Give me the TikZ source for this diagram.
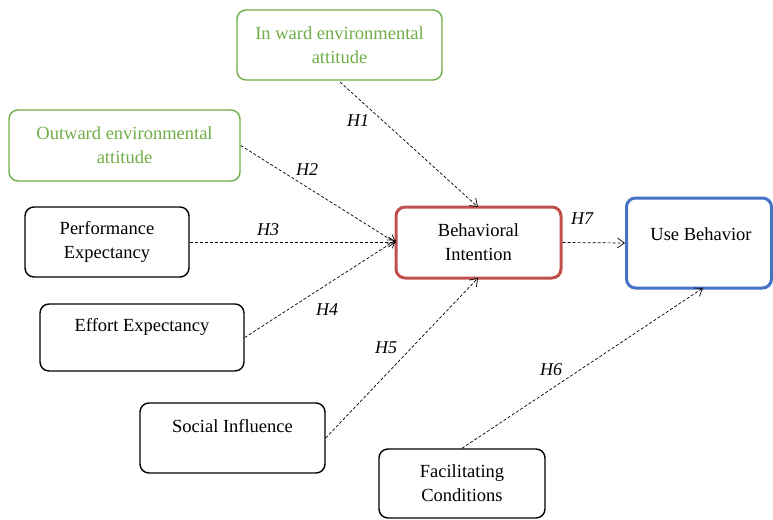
\documentclass[tikz,border=0pt]{standalone}
\usepackage{fontspec}
\setmainfont{Liberation Serif}
\usetikzlibrary{arrows.meta}
\definecolor{grn}{HTML}{70AD47}
\definecolor{red1}{HTML}{C0504D}
\definecolor{blu}{HTML}{4472C4}
\tikzset{
  txt/.style={font=\fontsize{18.5}{24}\selectfont, align=center, inner sep=0pt},
  box/.style={draw=black, line width=1.4pt, rounded corners=9pt, align=center, font=\fontsize{18.5}{24}\selectfont, inner sep=0pt},
  gbox/.style={box, draw=grn, text=grn},
  conn/.style={dashed, dash pattern=on 3pt off 2pt, line width=0.7pt, -{Straight Barb[length=7pt,width=10pt]}},
  hlab/.style={font=\fontsize{18}{20}\selectfont\itshape}
}
\begin{document}
\begin{tikzpicture}[x=1pt,y=-1pt]
\useasboundingbox (0,0) rectangle (773,519);
\node[gbox, minimum width=205pt, minimum height=70pt] (inw) at (339.5,45) {In ward environmental\\attitude};
\node[gbox, minimum width=231pt, minimum height=71pt] (outw) at (124.5,145.5) {Outward environmental\\attitude};
\node[box, minimum width=164pt, minimum height=70pt] (pe) at (107,242) {Performance\\Expectancy};
\node[box, minimum width=204pt, minimum height=67pt] (ee) at (142,337.5) {};
\node[txt] (eet) at (142,327) {Effort Expectancy};
\node[box, minimum width=185pt, minimum height=70pt] (si) at (232.5,438) {};
\node[txt] (sit) at (232.5,426) {Social Influence};
\node[box, minimum width=166pt, minimum height=69pt] (fc) at (462,483.5) {Facilitating\\Conditions};
\node[box, draw=red1, line width=3pt, minimum width=165pt, minimum height=71pt] (bi) at (478.5,242.5) {Behavioral\\Intention};
\node[box, draw=blu, line width=3pt, minimum width=145pt, minimum height=90pt] (ub) at (699,243) {};
\node[txt] (ubt) at (701,234) {Use Behavior};
\coordinate (inwB) at (340,82);
\coordinate (biT) at (478,207);
\coordinate (biL) at (396,242);
\coordinate (biB) at (478,278);
\coordinate (ubB) at (703,288);
\draw[conn] (inwB) -- (biT);
\draw[conn] (outw.east) -- ([yshift=-1pt]biL);
\draw[conn] (pe.east) -- (biL);
\draw[conn] (ee.east) -- ([yshift=2pt]biL);
\draw[conn] (si.east) -- (biB);
\draw[conn] (fc.north) -- (ubB);
\draw[conn] (bi.east) -- (ub.west);
\node[hlab] (h1) at (358,121) {H1};
\node[hlab] (h2) at (307,170) {H2};
\node[hlab] (h3) at (268,230) {H3};
\node[hlab] (h4) at (327,310) {H4};
\node[hlab] (h5) at (386,348) {H5};
\node[hlab] (h6) at (551,370) {H6};
\node[hlab] (h7) at (582,219) {H7};
\end{tikzpicture}
\end{document}
